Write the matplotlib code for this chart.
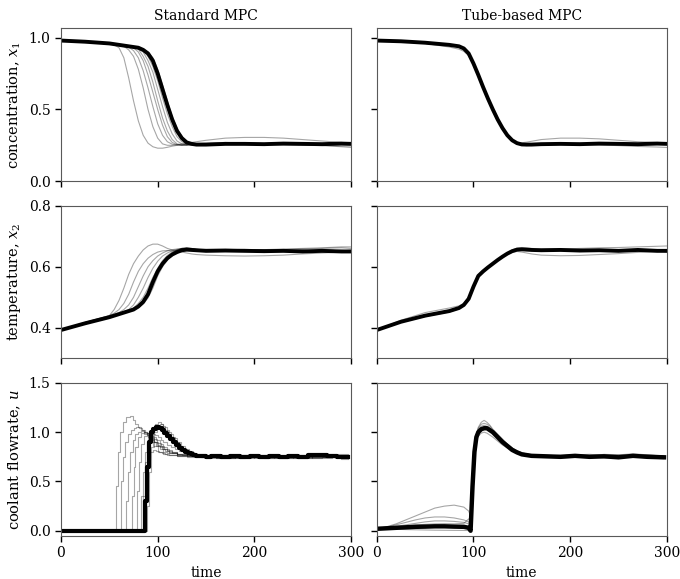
import matplotlib.pyplot as plt

plt.rcParams['font.family'] = ['DejaVu Serif']
plt.rcParams['mathtext.fontset'] = 'dejavuserif'
plt.rcParams['font.size'] = 10

# time grids
t_std = [0, 25, 50, 55, 60, 65, 70, 75, 80, 85, 90, 95, 100, 105, 110, 115, 120,
         125, 130, 135, 140, 150, 170, 190, 210, 230, 250, 270, 290, 300]
t_tube = [0, 25, 50, 75, 85, 90, 95, 100, 105, 110, 115, 120, 125, 130, 135, 140,
          145, 150, 155, 160, 170, 190, 210, 230, 250, 270, 290, 300]

# standard MPC, concentration (first entry = dense bundle)
std_x1 = [
    [0.98, 0.972, 0.96, 0.955, 0.95, 0.945, 0.94, 0.935, 0.93, 0.915, 0.89, 0.84, 0.75, 0.64, 0.53,
     0.43, 0.35, 0.30, 0.27, 0.26, 0.255, 0.255, 0.26, 0.26, 0.258, 0.262, 0.26, 0.258, 0.262, 0.26],
    [0.98, 0.972, 0.958, 0.95, 0.93, 0.86, 0.72, 0.56, 0.42, 0.32, 0.265, 0.24, 0.23, 0.23, 0.236,
     0.244, 0.25, 0.255, 0.258, 0.26, 0.262, 0.265, 0.27, 0.265, 0.262, 0.258, 0.255, 0.25, 0.245, 0.245],
    [0.98, 0.972, 0.96, 0.955, 0.95, 0.94, 0.915, 0.87, 0.78, 0.65, 0.50, 0.38, 0.30, 0.26, 0.25,
     0.25, 0.255, 0.26, 0.265, 0.27, 0.275, 0.285, 0.30, 0.305, 0.305, 0.30, 0.29, 0.28, 0.27, 0.265],
    [0.98, 0.972, 0.96, 0.955, 0.95, 0.945, 0.935, 0.91, 0.86, 0.77, 0.65, 0.52, 0.40, 0.32, 0.275,
     0.258, 0.252, 0.252, 0.255, 0.258, 0.26, 0.262, 0.26, 0.258, 0.255, 0.252, 0.25, 0.248, 0.24, 0.235],
    [0.98, 0.972, 0.96, 0.955, 0.95, 0.945, 0.94, 0.93, 0.90, 0.84, 0.74, 0.62, 0.50, 0.39, 0.31,
     0.27, 0.255, 0.25, 0.252, 0.256, 0.26, 0.262, 0.265, 0.26, 0.262, 0.265, 0.26, 0.262, 0.265, 0.27],
    [0.98, 0.972, 0.96, 0.955, 0.95, 0.945, 0.94, 0.935, 0.92, 0.87, 0.80, 0.69, 0.56, 0.44, 0.35,
     0.29, 0.26, 0.25, 0.25, 0.255, 0.258, 0.26, 0.262, 0.258, 0.26, 0.262, 0.258, 0.26, 0.265, 0.268],
    [0.98, 0.972, 0.96, 0.955, 0.95, 0.945, 0.94, 0.935, 0.925, 0.90, 0.84, 0.76, 0.64, 0.52, 0.41,
     0.33, 0.28, 0.26, 0.252, 0.252, 0.255, 0.258, 0.26, 0.262, 0.258, 0.262, 0.26, 0.258, 0.262, 0.265],
    [0.98, 0.972, 0.96, 0.955, 0.95, 0.945, 0.94, 0.935, 0.928, 0.91, 0.87, 0.80, 0.70, 0.58, 0.47,
     0.38, 0.31, 0.275, 0.26, 0.255, 0.255, 0.258, 0.262, 0.258, 0.262, 0.258, 0.262, 0.26, 0.258, 0.262],
    [0.98, 0.972, 0.96, 0.955, 0.95, 0.945, 0.94, 0.935, 0.93, 0.92, 0.90, 0.86, 0.78, 0.67, 0.56,
     0.45, 0.37, 0.31, 0.275, 0.262, 0.256, 0.255, 0.258, 0.262, 0.258, 0.262, 0.258, 0.262, 0.26, 0.258],
]

# standard MPC, temperature
std_x2 = [
    [0.393, 0.415, 0.435, 0.44, 0.445, 0.45, 0.455, 0.46, 0.47, 0.485, 0.51, 0.55, 0.585, 0.61, 0.628,
     0.64, 0.648, 0.654, 0.656, 0.655, 0.654, 0.652, 0.653, 0.652, 0.651, 0.652, 0.65, 0.652, 0.65, 0.65],
    [0.393, 0.418, 0.44, 0.46, 0.49, 0.53, 0.575, 0.61, 0.635, 0.655, 0.668, 0.674, 0.674, 0.668, 0.66,
     0.655, 0.652, 0.652, 0.653, 0.655, 0.656, 0.657, 0.657, 0.655, 0.656, 0.658, 0.66, 0.662, 0.665, 0.665],
    [0.393, 0.418, 0.44, 0.448, 0.46, 0.48, 0.51, 0.55, 0.585, 0.61, 0.628, 0.64, 0.648, 0.652, 0.653,
     0.652, 0.65, 0.648, 0.645, 0.642, 0.64, 0.638, 0.636, 0.635, 0.636, 0.638, 0.642, 0.645, 0.648, 0.65],
    [0.393, 0.417, 0.438, 0.444, 0.45, 0.46, 0.475, 0.5, 0.535, 0.57, 0.6, 0.62, 0.635, 0.645, 0.652,
     0.656, 0.658, 0.658, 0.657, 0.656, 0.655, 0.654, 0.655, 0.657, 0.655, 0.656, 0.658, 0.66, 0.662, 0.66],
    [0.393, 0.416, 0.437, 0.442, 0.447, 0.453, 0.46, 0.475, 0.50, 0.53, 0.565, 0.595, 0.618, 0.635, 0.645,
     0.652, 0.657, 0.66, 0.66, 0.658, 0.656, 0.655, 0.652, 0.655, 0.653, 0.65, 0.652, 0.655, 0.652, 0.65],
    [0.393, 0.416, 0.436, 0.441, 0.446, 0.451, 0.457, 0.465, 0.48, 0.50, 0.53, 0.565, 0.595, 0.62, 0.637,
     0.648, 0.655, 0.66, 0.662, 0.66, 0.657, 0.654, 0.652, 0.65, 0.652, 0.655, 0.65, 0.648, 0.65, 0.652],
    [0.393, 0.415, 0.435, 0.44, 0.445, 0.45, 0.455, 0.462, 0.472, 0.49, 0.515, 0.55, 0.585, 0.612, 0.632,
     0.645, 0.654, 0.66, 0.662, 0.66, 0.657, 0.654, 0.655, 0.652, 0.655, 0.652, 0.655, 0.652, 0.65, 0.648],
    [0.393, 0.415, 0.435, 0.44, 0.445, 0.45, 0.455, 0.46, 0.468, 0.482, 0.505, 0.54, 0.578, 0.607, 0.628,
     0.642, 0.651, 0.657, 0.66, 0.658, 0.656, 0.653, 0.652, 0.654, 0.65, 0.652, 0.654, 0.65, 0.652, 0.655],
    [0.393, 0.414, 0.434, 0.439, 0.444, 0.449, 0.454, 0.459, 0.466, 0.478, 0.498, 0.53, 0.57, 0.60, 0.622,
     0.638, 0.648, 0.654, 0.657, 0.658, 0.656, 0.654, 0.652, 0.654, 0.652, 0.654, 0.652, 0.65, 0.654, 0.652],
]

# tube-based MPC, concentration
tube_x1 = [
    [0.98, 0.975, 0.965, 0.95, 0.94, 0.925, 0.89, 0.82, 0.74, 0.655, 0.575, 0.50, 0.43, 0.37,
     0.32, 0.285, 0.265, 0.256, 0.255, 0.255, 0.258, 0.26, 0.258, 0.262, 0.26, 0.258, 0.262, 0.26],
    [0.98, 0.973, 0.96, 0.935, 0.92, 0.905, 0.875, 0.81, 0.73, 0.645, 0.565, 0.49, 0.42, 0.36,
     0.315, 0.285, 0.27, 0.268, 0.272, 0.278, 0.29, 0.30, 0.30, 0.295, 0.285, 0.275, 0.27, 0.268],
    [0.98, 0.975, 0.965, 0.95, 0.94, 0.925, 0.895, 0.83, 0.75, 0.665, 0.585, 0.51, 0.44, 0.38,
     0.325, 0.285, 0.262, 0.25, 0.248, 0.25, 0.255, 0.258, 0.255, 0.252, 0.248, 0.242, 0.238, 0.235],
    [0.98, 0.975, 0.965, 0.952, 0.942, 0.928, 0.89, 0.815, 0.735, 0.65, 0.57, 0.495, 0.425, 0.365,
     0.315, 0.28, 0.262, 0.255, 0.255, 0.258, 0.262, 0.258, 0.262, 0.265, 0.26, 0.262, 0.268, 0.265],
    [0.98, 0.975, 0.965, 0.95, 0.94, 0.926, 0.892, 0.825, 0.745, 0.66, 0.58, 0.505, 0.435, 0.372,
     0.322, 0.286, 0.266, 0.256, 0.252, 0.254, 0.256, 0.26, 0.264, 0.258, 0.262, 0.258, 0.256, 0.26],
]

# tube-based MPC, temperature
tube_x2 = [
    [0.393, 0.42, 0.44, 0.455, 0.465, 0.475, 0.495, 0.535, 0.57, 0.585, 0.598, 0.61, 0.622, 0.633,
     0.643, 0.651, 0.656, 0.657, 0.656, 0.655, 0.654, 0.655, 0.653, 0.654, 0.652, 0.655, 0.652, 0.652],
    [0.393, 0.425, 0.45, 0.465, 0.472, 0.48, 0.5, 0.54, 0.573, 0.588, 0.6, 0.612, 0.623, 0.633,
     0.641, 0.647, 0.65, 0.648, 0.645, 0.642, 0.638, 0.636, 0.637, 0.64, 0.643, 0.647, 0.65, 0.65],
    [0.393, 0.418, 0.437, 0.452, 0.462, 0.472, 0.492, 0.532, 0.567, 0.583, 0.597, 0.61, 0.623, 0.635,
     0.646, 0.655, 0.661, 0.663, 0.662, 0.66, 0.658, 0.658, 0.66, 0.662, 0.663, 0.665, 0.667, 0.668],
    [0.393, 0.421, 0.442, 0.458, 0.467, 0.477, 0.497, 0.537, 0.572, 0.587, 0.6, 0.612, 0.624, 0.634,
     0.643, 0.65, 0.655, 0.657, 0.657, 0.655, 0.652, 0.654, 0.657, 0.652, 0.655, 0.652, 0.654, 0.648],
    [0.393, 0.419, 0.439, 0.454, 0.464, 0.474, 0.494, 0.534, 0.569, 0.584, 0.597, 0.609, 0.621, 0.632,
     0.642, 0.65, 0.655, 0.656, 0.655, 0.653, 0.652, 0.655, 0.65, 0.653, 0.656, 0.65, 0.654, 0.656],
]

# standard MPC, coolant flowrate (step times, values)
std_u_t = [
    [0, 87, 89, 91, 93, 95, 98, 101, 104, 107, 110, 113, 116, 119, 122, 125, 128, 131, 134, 137,
     140, 145, 150, 155, 165, 175, 185, 195, 205, 215, 225, 235, 245, 255, 265, 275, 285, 297],
    [0, 57, 59, 61, 64, 67, 71, 74, 77, 80, 83, 86, 90, 95, 100, 105, 110, 120, 130, 145,
     160, 180, 200, 220, 240, 260, 280, 297],
    [0, 62, 64, 66, 69, 72, 75, 78, 81, 84, 87, 90, 94, 98, 102, 106, 110, 120, 130, 145,
     160, 180, 200, 220, 240, 260, 280, 297],
    [0, 67, 69, 71, 74, 77, 80, 83, 86, 89, 92, 96, 100, 104, 108, 112, 120, 130, 145, 160,
     180, 200, 220, 240, 260, 280, 297],
    [0, 73, 75, 77, 80, 83, 86, 89, 92, 95, 99, 103, 107, 112, 120, 130, 145, 160, 180, 200,
     220, 240, 260, 280, 297],
    [0, 79, 81, 83, 86, 89, 92, 95, 98, 102, 106, 110, 115, 120, 130, 145, 160, 180, 200, 220,
     240, 260, 280, 297],
    [0, 83, 85, 87, 90, 93, 96, 99, 102, 106, 110, 115, 120, 125, 130, 140, 150, 165, 180, 200,
     220, 240, 260, 280, 297],
    [0, 86, 88, 90, 92, 95, 98, 101, 104, 108, 112, 116, 120, 125, 130, 140, 150, 165, 180, 200,
     220, 240, 260, 280, 297],
    [0, 88, 90, 92, 94, 97, 100, 103, 106, 110, 114, 118, 122, 126, 130, 135, 140, 150, 165, 180,
     200, 220, 240, 260, 280, 297],
    [0, 85, 87, 89, 91, 94, 97, 100, 103, 106, 110, 114, 118, 122, 126, 130, 135, 140, 150, 165,
     180, 200, 220, 240, 260, 280, 297],
    [0, 89, 91, 93, 96, 99, 102, 105, 108, 112, 116, 120, 124, 128, 132, 136, 140, 150, 160, 175,
     190, 210, 230, 250, 270, 290, 297],
]
std_u = [
    [0, 0.3, 0.65, 0.9, 1.0, 1.03, 1.05, 1.04, 1.02, 0.99, 0.96, 0.93, 0.9, 0.87, 0.84, 0.82, 0.8, 0.785,
     0.775, 0.765, 0.76, 0.755, 0.75, 0.76, 0.75, 0.755, 0.745, 0.76, 0.75, 0.755, 0.745, 0.76, 0.75,
     0.765, 0.77, 0.755, 0.75, 0.75],
    [0, 0.45, 0.8, 1.0, 1.1, 1.15, 1.16, 1.12, 1.08, 1.05, 1.02, 0.98, 0.93, 0.86, 0.8, 0.78, 0.77, 0.76,
     0.755, 0.75, 0.76, 0.75, 0.755, 0.745, 0.76, 0.75, 0.755, 0.75],
    [0, 0.5, 0.75, 0.9, 0.98, 1.02, 1.04, 1.05, 1.04, 1.02, 0.99, 0.95, 0.9, 0.86, 0.83, 0.8, 0.785, 0.77,
     0.76, 0.755, 0.765, 0.77, 0.76, 0.75, 0.755, 0.765, 0.76, 0.755],
    [0, 0.3, 0.6, 0.8, 0.92, 0.98, 1.0, 1.01, 1.0, 0.97, 0.94, 0.9, 0.86, 0.83, 0.81, 0.79, 0.77, 0.76,
     0.75, 0.74, 0.75, 0.745, 0.755, 0.74, 0.75, 0.745, 0.735],
    [0, 0.35, 0.65, 0.85, 0.95, 0.99, 1.0, 0.99, 0.96, 0.93, 0.89, 0.86, 0.83, 0.8, 0.78, 0.765, 0.755,
     0.765, 0.76, 0.765, 0.755, 0.765, 0.76, 0.77, 0.76],
    [0, 0.4, 0.7, 0.88, 0.96, 0.99, 0.98, 0.95, 0.92, 0.88, 0.85, 0.82, 0.8, 0.78, 0.765, 0.75, 0.74,
     0.745, 0.74, 0.75, 0.745, 0.74, 0.75, 0.74],
    [0, 0.35, 0.6, 0.8, 0.9, 0.92, 0.9, 0.87, 0.85, 0.83, 0.81, 0.79, 0.78, 0.77, 0.765, 0.76, 0.755,
     0.76, 0.765, 0.755, 0.76, 0.75, 0.765, 0.78, 0.76],
    [0, 0.3, 0.55, 0.72, 0.8, 0.82, 0.81, 0.8, 0.79, 0.78, 0.77, 0.765, 0.76, 0.755, 0.75, 0.745, 0.74,
     0.75, 0.74, 0.745, 0.74, 0.745, 0.75, 0.745, 0.74],
    [0, 0.4, 0.75, 0.95, 1.05, 1.08, 1.1, 1.08, 1.05, 1.0, 0.95, 0.9, 0.86, 0.83, 0.8, 0.78, 0.77, 0.76,
     0.75, 0.76, 0.77, 0.76, 0.765, 0.775, 0.77, 0.765],
    [0, 0.35, 0.7, 0.88, 0.95, 0.98, 0.97, 0.95, 0.92, 0.9, 0.87, 0.85, 0.83, 0.81, 0.8, 0.79, 0.78,
     0.77, 0.76, 0.755, 0.765, 0.755, 0.77, 0.76, 0.765, 0.755, 0.75],
    [0, 0.25, 0.6, 0.85, 1.0, 1.06, 1.08, 1.06, 1.02, 0.98, 0.94, 0.9, 0.86, 0.83, 0.81, 0.79, 0.775,
     0.76, 0.755, 0.74, 0.745, 0.735, 0.74, 0.735, 0.745, 0.73, 0.725],
]

# tube-based MPC, coolant flowrate
tube_u_t = [0, 10, 20, 30, 40, 50, 60, 70, 80, 90, 95, 97, 99, 101, 103, 105, 108, 111, 114, 117,
            120, 125, 130, 135, 140, 145, 150, 160, 175, 190, 205, 220, 235, 250, 265, 280, 297]
tube_u = [
    [0.02, 0.025, 0.03, 0.035, 0.04, 0.042, 0.045, 0.045, 0.042, 0.04, 0.03, 0.0, 0.45, 0.8, 0.95, 1.0,
     1.03, 1.04, 1.04, 1.02, 1.0, 0.95, 0.9, 0.86, 0.82, 0.795, 0.775, 0.76, 0.755, 0.75, 0.76, 0.75,
     0.755, 0.745, 0.76, 0.75, 0.745],
    [0.02, 0.04, 0.07, 0.11, 0.15, 0.19, 0.23, 0.25, 0.26, 0.24, 0.2, 0.15, 0.55, 0.85, 0.98, 1.05,
     1.1, 1.12, 1.1, 1.07, 1.03, 0.98, 0.93, 0.88, 0.84, 0.81, 0.79, 0.77, 0.76, 0.765, 0.77, 0.76,
     0.775, 0.77, 0.78, 0.77, 0.76],
    [0.02, 0.035, 0.06, 0.085, 0.11, 0.13, 0.14, 0.14, 0.13, 0.11, 0.09, 0.05, 0.5, 0.82, 0.96, 1.02,
     1.06, 1.07, 1.06, 1.04, 1.01, 0.96, 0.91, 0.87, 0.83, 0.8, 0.78, 0.765, 0.755, 0.74, 0.745, 0.75,
     0.74, 0.745, 0.75, 0.74, 0.73],
    [0.02, 0.03, 0.045, 0.06, 0.075, 0.09, 0.1, 0.1, 0.095, 0.085, 0.07, 0.02, 0.4, 0.75, 0.9, 0.96,
     0.99, 1.0, 0.99, 0.97, 0.95, 0.91, 0.87, 0.84, 0.81, 0.79, 0.775, 0.76, 0.75, 0.745, 0.75, 0.74,
     0.755, 0.745, 0.75, 0.74, 0.745],
    [0.02, 0.018, 0.015, 0.012, 0.01, 0.008, 0.006, 0.005, 0.004, 0.003, 0.003, 0.0, 0.45, 0.8, 0.94,
     1.0, 1.04, 1.05, 1.04, 1.02, 0.99, 0.95, 0.9, 0.86, 0.82, 0.8, 0.78, 0.765, 0.75, 0.755, 0.745,
     0.755, 0.75, 0.76, 0.745, 0.75, 0.74],
    [0.02, 0.028, 0.038, 0.048, 0.058, 0.065, 0.07, 0.072, 0.07, 0.075, 0.12, 0.1, 0.52, 0.84, 0.97,
     1.04, 1.08, 1.09, 1.08, 1.06, 1.02, 0.97, 0.92, 0.88, 0.84, 0.81, 0.79, 0.77, 0.765, 0.76, 0.77,
     0.775, 0.765, 0.77, 0.765, 0.77, 0.755],
]

light = dict(color='k', alpha=0.35, lw=0.8)
core = dict(color='k', lw=2.8)

fig, axes = plt.subplots(3, 2, figsize=(6.8, 5.79), dpi=100, sharex=True, sharey='row')
fig.subplots_adjust(left=0.0897, right=0.9807, bottom=0.0748, top=0.951, wspace=0.0886, hspace=0.16)

for col, (x1, x2) in enumerate([(std_x1, std_x2), (tube_x1, tube_x2)]):
    t = t_std if col == 0 else t_tube
    for row, runs in enumerate([x1, x2]):
        ax = axes[row, col]
        for y in runs[1:]:
            ax.plot(t, y, **light)
        ax.plot(t, runs[0], **core)

ax = axes[2, 0]
for tt, y in zip(std_u_t[1:], std_u[1:]):
    ax.step(tt, y, where='post', **light)
ax.step(std_u_t[0], std_u[0], where='post', color='k', lw=3.0)

ax = axes[2, 1]
for y in tube_u[1:]:
    ax.plot(tube_u_t, y, **light)
ax.plot(tube_u_t, tube_u[0], color='k', lw=3.2)

axes[0, 0].set_title('Standard MPC', fontsize=10)
axes[0, 1].set_title('Tube-based MPC', fontsize=10)
axes[0, 0].set_ylabel('concentration, $x_1$', fontsize=10.5)
axes[1, 0].set_ylabel('temperature, $x_2$', fontsize=10.5)
axes[2, 0].set_ylabel('coolant flowrate, $u$', fontsize=10.5)
axes[2, 0].set_xlabel('time')
axes[2, 1].set_xlabel('time')

axes[0, 0].set_ylim(0, 1.065)
axes[0, 0].set_yticks([0, 0.5, 1.0])
axes[1, 0].set_ylim(0.3, 0.8)
axes[1, 0].set_yticks([0.4, 0.6, 0.8])
axes[2, 0].set_ylim(-0.05, 1.5)
axes[2, 0].set_yticks([0, 0.5, 1.0, 1.5])
axes[2, 0].set_xlim(0, 300)
axes[2, 0].set_xticks([0, 100, 200, 300])

for ax in axes.flat:
    for s in ax.spines.values():
        s.set_color('0.35')
        s.set_linewidth(0.8)
    ax.tick_params(direction='out', length=4, width=1, color='k', top=False, right=False)

fig.savefig('out.png')
